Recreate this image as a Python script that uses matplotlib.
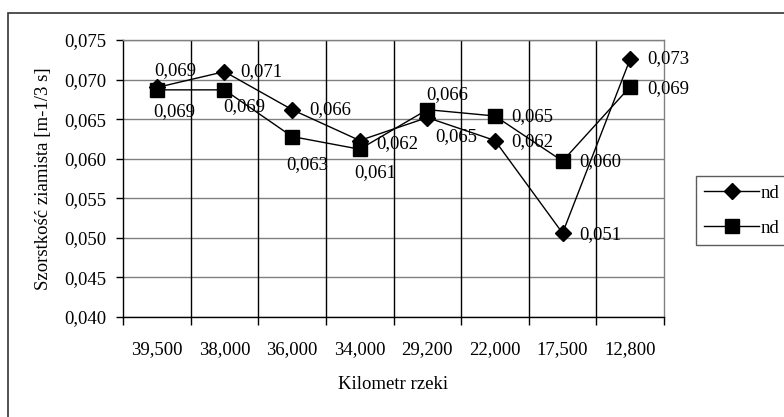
import numpy as np
import matplotlib.pyplot as plt
from matplotlib.patches import Rectangle

plt.rcParams['font.family'] = ['Liberation Serif', 'DejaVu Serif']

km = ['39,500', '38,000', '36,000', '34,000', '29,200', '22,000', '17,500', '12,800']
nd_a = [0.0690, 0.0710, 0.0662, 0.0623, 0.0652, 0.0623, 0.0506, 0.0726]
nd_b = [0.0687, 0.0687, 0.0628, 0.0612, 0.0662, 0.0654, 0.0597, 0.0691]
series_names = ['nd', 'nd']   # legend text is cut at the picture edge in the source

FS = 13.5

# label placement (pixel offsets, ha) like the excel export
off_a = [(18, 17, 'center'), (16, 0, 'left'), (17, 0, 'left'), (17, -3, 'left'),
         (8, -19, 'left'), (16, -1, 'left'), (17, -1, 'left'), (17, 0, 'left')]
off_b = [(17, -22, 'center'), (20, -17, 'center'), (15, -28, 'center'), (16, -23, 'center'),
         (20, 15, 'center'), (16, -1, 'left'), (17, -1, 'left'), (17, -2, 'left')]

fig = plt.figure(figsize=(7.84, 4.17), dpi=100)
W, H = 784, 417
ax = fig.add_axes([123 / W, 1 - 317 / H, (664 - 123) / W, (317 - 40) / H])

# outer chart frame (cut off on right and bottom)
fig.patches.append(Rectangle((8 / W, -0.1), 1.0, 1 - 13 / H + 0.1, transform=fig.transFigure,
                             fill=False, edgecolor='#333333', linewidth=1.2))

x = np.arange(len(km))
ax.plot(x, nd_a, color='black', linewidth=1, marker='D', markersize=8, label=series_names[0])
ax.plot(x, nd_b, color='black', linewidth=1, marker='s', markersize=9.5, label=series_names[1])

for xs, ys, offs in [(x, nd_a, off_a), (x, nd_b, off_b)]:
    for xi, yi, (dx, dy, ha) in zip(xs, ys, offs):
        ax.annotate(f'{yi:.3f}'.replace('.', ','), (xi, yi), xytext=(dx, dy),
                    textcoords='offset pixels', ha=ha, va='center', fontsize=FS)

ax.set_xlim(-0.5, len(km) - 0.5)
ax.set_ylim(0.040, 0.075)
yt = np.arange(0.040, 0.0751, 0.005)
ax.set_yticks(yt)
ax.set_yticklabels([f'{v:.3f}'.replace('.', ',') for v in yt], fontsize=FS)
ax.set_xticks(x)
ax.set_xticklabels(km, fontsize=FS)
ax.tick_params(axis='x', length=0, pad=17)
ax.set_xticks(np.arange(-0.5, len(km)), minor=True)
ax.tick_params(axis='x', which='minor', length=6, width=1, direction='out', color='black')
ax.tick_params(axis='y', length=5, width=1, direction='out', pad=7)

for v in yt:
    ax.axhline(v, color='#808080', linewidth=1, zorder=0.5)
for v in np.arange(0.5, len(km) - 0.5):
    ax.axvline(v, color='black', linewidth=1, zorder=0.5)

ax.spines['left'].set_color('black')
ax.spines['bottom'].set_color('black')
ax.spines['right'].set_color('#808080')
ax.spines['top'].set_color('#808080')
for s in ax.spines.values():
    s.set_linewidth(1)

ax.set_xlabel('Kilometr rzeki', fontsize=FS, labelpad=13)
ax.set_ylabel('Szorstkość ziamista [m-1/3 s]', fontsize=FS, labelpad=9)

leg = ax.legend(loc='upper left', bbox_to_anchor=(696 / W, 1 - 176 / H),
                bbox_transform=fig.transFigure, frameon=True, fancybox=False,
                edgecolor='#333333', fontsize=FS, handlelength=2.9, borderaxespad=0,
                borderpad=0.45, labelspacing=0.95, handletextpad=0.1)
leg.get_frame().set_linewidth(1)

fig.savefig('out.png', dpi=100)
